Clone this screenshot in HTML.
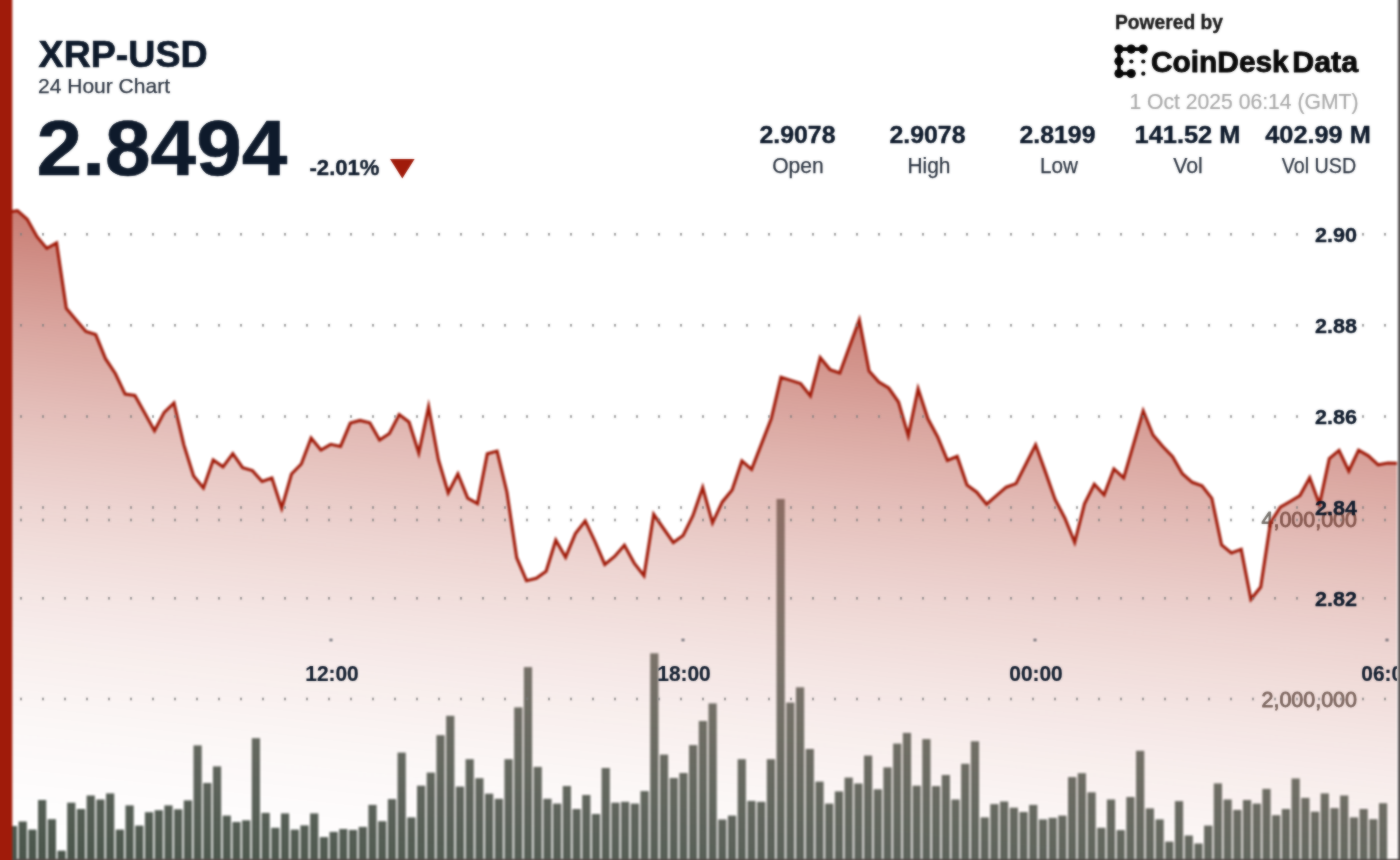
<!DOCTYPE html>
<html><head><meta charset="utf-8"><title>XRP-USD 24 Hour Chart</title>
<style>
html,body{margin:0;padding:0;background:#fff;}
body{width:1400px;height:860px;overflow:hidden;position:relative;font-family:"Liberation Sans",sans-serif;}
svg{position:absolute;left:-10px;top:-10px;display:block;}
text{font-family:"Liberation Sans",sans-serif;}
</style></head><body>
<svg width="1420" height="880" viewBox="-10 -10 1420 880">
<defs>
<linearGradient id="gf" gradientUnits="userSpaceOnUse" x1="30" y1="200" x2="-44.22" y2="880.91"><stop offset="0.0000" stop-color="#a01b0a" stop-opacity="0.5900"/><stop offset="0.0417" stop-color="#a01b0a" stop-opacity="0.5419"/><stop offset="0.0833" stop-color="#a01b0a" stop-opacity="0.4958"/><stop offset="0.1250" stop-color="#a01b0a" stop-opacity="0.4517"/><stop offset="0.1667" stop-color="#a01b0a" stop-opacity="0.4097"/><stop offset="0.2083" stop-color="#a01b0a" stop-opacity="0.3698"/><stop offset="0.2500" stop-color="#a01b0a" stop-opacity="0.3319"/><stop offset="0.2917" stop-color="#a01b0a" stop-opacity="0.2960"/><stop offset="0.3333" stop-color="#a01b0a" stop-opacity="0.2622"/><stop offset="0.3750" stop-color="#a01b0a" stop-opacity="0.2305"/><stop offset="0.4167" stop-color="#a01b0a" stop-opacity="0.2008"/><stop offset="0.4583" stop-color="#a01b0a" stop-opacity="0.1731"/><stop offset="0.5000" stop-color="#a01b0a" stop-opacity="0.1475"/><stop offset="0.5417" stop-color="#a01b0a" stop-opacity="0.1239"/><stop offset="0.5833" stop-color="#a01b0a" stop-opacity="0.1024"/><stop offset="0.6250" stop-color="#a01b0a" stop-opacity="0.0830"/><stop offset="0.6667" stop-color="#a01b0a" stop-opacity="0.0656"/><stop offset="0.7083" stop-color="#a01b0a" stop-opacity="0.0502"/><stop offset="0.7500" stop-color="#a01b0a" stop-opacity="0.0369"/><stop offset="0.7917" stop-color="#a01b0a" stop-opacity="0.0256"/><stop offset="0.8333" stop-color="#a01b0a" stop-opacity="0.0164"/><stop offset="0.8750" stop-color="#a01b0a" stop-opacity="0.0092"/><stop offset="0.9167" stop-color="#a01b0a" stop-opacity="0.0041"/><stop offset="0.9583" stop-color="#a01b0a" stop-opacity="0.0010"/><stop offset="1.0000" stop-color="#a01b0a" stop-opacity="0.0000"/></linearGradient>
<linearGradient id="gb" gradientUnits="userSpaceOnUse" x1="30" y1="200" x2="-44.22" y2="880.91"><stop offset="0.3164" stop-color="rgb(133, 140, 134)"/><stop offset="0.5298" stop-color="rgb(121, 129, 121)"/><stop offset="0.8171" stop-color="rgb(92, 101, 93)"/><stop offset="0.9115" stop-color="rgb(80, 91, 81)"/><stop offset="1.0000" stop-color="rgb(69, 80, 70)"/></linearGradient>
<clipPath id="plot"><rect x="-10" y="-10" width="1407" height="868"/></clipPath>
<clipPath id="plotb"><rect x="-10" y="-10" width="1407" height="880"/></clipPath>
<filter id="fg" color-interpolation-filters="sRGB" filterUnits="userSpaceOnUse" x="-10" y="-10" width="1420" height="880"><feGaussianBlur stdDeviation="0.9"/></filter>
<filter id="ft" color-interpolation-filters="sRGB" filterUnits="userSpaceOnUse" x="-10" y="-10" width="1420" height="880"><feGaussianBlur stdDeviation="0.9" result="b"/><feComposite in="b" in2="SourceGraphic" operator="arithmetic" k1="0" k2="0.55" k3="0.44999999999999996" k4="0"/></filter>
<filter id="fd" color-interpolation-filters="sRGB" filterUnits="userSpaceOnUse" x="-10" y="-10" width="1420" height="880"><feGaussianBlur stdDeviation="0.9" result="b"/><feComposite in="b" in2="SourceGraphic" operator="arithmetic" k1="0" k2="0.7" k3="0.3" k4="0"/></filter>
</defs>
<rect x="-10" y="-10" width="1420" height="880" fill="#fff"/>
<!-- layer A: bars -->
<g filter="url(#fg)">
<rect x="-10" y="-10" width="1420" height="880" fill="#fff"/>
<g clip-path="url(#plotb)" fill="url(#gb)">
<rect x="8.88" y="826.0" width="8.2" height="44.0"/>
<rect x="18.60" y="821.5" width="8.2" height="48.5"/>
<rect x="28.32" y="829.6" width="8.2" height="40.4"/>
<rect x="38.03" y="800.0" width="8.2" height="70.0"/>
<rect x="47.75" y="819.2" width="8.2" height="50.8"/>
<rect x="57.47" y="850.7" width="8.2" height="19.3"/>
<rect x="67.19" y="802.7" width="8.2" height="67.3"/>
<rect x="76.90" y="809.0" width="8.2" height="61.0"/>
<rect x="86.62" y="795.5" width="8.2" height="74.5"/>
<rect x="96.34" y="799.5" width="8.2" height="70.5"/>
<rect x="106.05" y="793.4" width="8.2" height="76.6"/>
<rect x="115.77" y="829.6" width="8.2" height="40.4"/>
<rect x="125.49" y="805.4" width="8.2" height="64.6"/>
<rect x="135.20" y="825.6" width="8.2" height="44.4"/>
<rect x="144.92" y="812.2" width="8.2" height="57.8"/>
<rect x="154.64" y="810.2" width="8.2" height="59.8"/>
<rect x="164.35" y="805.4" width="8.2" height="64.6"/>
<rect x="174.07" y="809.3" width="8.2" height="60.7"/>
<rect x="183.79" y="800.4" width="8.2" height="69.6"/>
<rect x="193.51" y="745.4" width="8.2" height="124.6"/>
<rect x="203.22" y="783.0" width="8.2" height="87.0"/>
<rect x="212.94" y="766.4" width="8.2" height="103.6"/>
<rect x="222.66" y="815.6" width="8.2" height="54.4"/>
<rect x="232.37" y="822.0" width="8.2" height="48.0"/>
<rect x="242.09" y="820.3" width="8.2" height="49.7"/>
<rect x="251.81" y="738.2" width="8.2" height="131.8"/>
<rect x="261.52" y="812.9" width="8.2" height="57.1"/>
<rect x="271.24" y="827.8" width="8.2" height="42.2"/>
<rect x="280.96" y="813.4" width="8.2" height="56.6"/>
<rect x="290.68" y="829.6" width="8.2" height="40.4"/>
<rect x="300.39" y="825.4" width="8.2" height="44.6"/>
<rect x="310.11" y="813.4" width="8.2" height="56.6"/>
<rect x="319.83" y="837.1" width="8.2" height="32.9"/>
<rect x="329.54" y="831.9" width="8.2" height="38.1"/>
<rect x="339.26" y="829.0" width="8.2" height="41.0"/>
<rect x="348.98" y="829.9" width="8.2" height="40.1"/>
<rect x="358.69" y="826.9" width="8.2" height="43.1"/>
<rect x="368.41" y="804.9" width="8.2" height="65.1"/>
<rect x="378.13" y="821.2" width="8.2" height="48.8"/>
<rect x="387.85" y="799.1" width="8.2" height="70.9"/>
<rect x="397.56" y="752.6" width="8.2" height="117.4"/>
<rect x="407.28" y="817.4" width="8.2" height="52.6"/>
<rect x="417.00" y="785.7" width="8.2" height="84.3"/>
<rect x="426.71" y="772.6" width="8.2" height="97.4"/>
<rect x="436.43" y="735.2" width="8.2" height="134.8"/>
<rect x="446.15" y="715.8" width="8.2" height="154.2"/>
<rect x="455.87" y="786.6" width="8.2" height="83.4"/>
<rect x="465.58" y="759.2" width="8.2" height="110.8"/>
<rect x="475.30" y="778.2" width="8.2" height="91.8"/>
<rect x="485.02" y="793.7" width="8.2" height="76.3"/>
<rect x="494.73" y="798.8" width="8.2" height="71.2"/>
<rect x="504.45" y="759.2" width="8.2" height="110.8"/>
<rect x="514.17" y="707.4" width="8.2" height="162.6"/>
<rect x="523.88" y="667.1" width="8.2" height="202.9"/>
<rect x="533.60" y="766.9" width="8.2" height="103.1"/>
<rect x="543.32" y="798.8" width="8.2" height="71.2"/>
<rect x="553.04" y="803.6" width="8.2" height="66.4"/>
<rect x="562.75" y="786.0" width="8.2" height="84.0"/>
<rect x="572.47" y="809.0" width="8.2" height="61.0"/>
<rect x="582.19" y="795.0" width="8.2" height="75.0"/>
<rect x="591.90" y="814.0" width="8.2" height="56.0"/>
<rect x="601.62" y="768.0" width="8.2" height="102.0"/>
<rect x="611.34" y="802.7" width="8.2" height="67.3"/>
<rect x="621.05" y="801.8" width="8.2" height="68.2"/>
<rect x="630.77" y="803.6" width="8.2" height="66.4"/>
<rect x="640.49" y="791.1" width="8.2" height="78.9"/>
<rect x="650.21" y="653.3" width="8.2" height="216.7"/>
<rect x="659.92" y="754.6" width="8.2" height="115.4"/>
<rect x="669.64" y="778.0" width="8.2" height="92.0"/>
<rect x="679.36" y="773.0" width="8.2" height="97.0"/>
<rect x="689.07" y="745.1" width="8.2" height="124.9"/>
<rect x="698.79" y="721.0" width="8.2" height="149.0"/>
<rect x="708.51" y="703.4" width="8.2" height="166.6"/>
<rect x="718.22" y="819.5" width="8.2" height="50.5"/>
<rect x="727.94" y="815.6" width="8.2" height="54.4"/>
<rect x="737.66" y="759.2" width="8.2" height="110.8"/>
<rect x="747.38" y="800.9" width="8.2" height="69.1"/>
<rect x="757.09" y="801.8" width="8.2" height="68.2"/>
<rect x="766.81" y="759.2" width="8.2" height="110.8"/>
<rect x="776.53" y="499.0" width="8.2" height="371.0"/>
<rect x="786.24" y="702.6" width="8.2" height="167.4"/>
<rect x="795.96" y="687.3" width="8.2" height="182.7"/>
<rect x="805.68" y="749.0" width="8.2" height="121.0"/>
<rect x="815.39" y="781.6" width="8.2" height="88.4"/>
<rect x="825.11" y="803.6" width="8.2" height="66.4"/>
<rect x="834.83" y="791.4" width="8.2" height="78.6"/>
<rect x="844.55" y="777.6" width="8.2" height="92.4"/>
<rect x="854.26" y="783.5" width="8.2" height="86.5"/>
<rect x="863.98" y="755.6" width="8.2" height="114.4"/>
<rect x="873.70" y="789.3" width="8.2" height="80.7"/>
<rect x="883.41" y="767.4" width="8.2" height="102.6"/>
<rect x="893.13" y="743.6" width="8.2" height="126.4"/>
<rect x="902.85" y="732.9" width="8.2" height="137.1"/>
<rect x="912.56" y="785.7" width="8.2" height="84.3"/>
<rect x="922.28" y="739.1" width="8.2" height="130.9"/>
<rect x="932.00" y="786.1" width="8.2" height="83.9"/>
<rect x="941.72" y="775.0" width="8.2" height="95.0"/>
<rect x="951.43" y="799.5" width="8.2" height="70.5"/>
<rect x="961.15" y="763.8" width="8.2" height="106.2"/>
<rect x="970.87" y="741.3" width="8.2" height="128.7"/>
<rect x="980.58" y="817.4" width="8.2" height="52.6"/>
<rect x="990.30" y="804.1" width="8.2" height="65.9"/>
<rect x="1000.02" y="801.5" width="8.2" height="68.5"/>
<rect x="1009.73" y="807.7" width="8.2" height="62.3"/>
<rect x="1019.45" y="812.0" width="8.2" height="58.0"/>
<rect x="1029.17" y="804.9" width="8.2" height="65.1"/>
<rect x="1038.89" y="819.4" width="8.2" height="50.6"/>
<rect x="1048.60" y="817.9" width="8.2" height="52.1"/>
<rect x="1058.32" y="815.6" width="8.2" height="54.4"/>
<rect x="1068.04" y="777.1" width="8.2" height="92.9"/>
<rect x="1077.75" y="773.2" width="8.2" height="96.8"/>
<rect x="1087.47" y="792.3" width="8.2" height="77.7"/>
<rect x="1097.19" y="827.8" width="8.2" height="42.2"/>
<rect x="1106.90" y="799.5" width="8.2" height="70.5"/>
<rect x="1116.62" y="830.1" width="8.2" height="39.9"/>
<rect x="1126.34" y="797.0" width="8.2" height="73.0"/>
<rect x="1136.06" y="750.8" width="8.2" height="119.2"/>
<rect x="1145.77" y="808.4" width="8.2" height="61.6"/>
<rect x="1155.49" y="819.4" width="8.2" height="50.6"/>
<rect x="1165.21" y="841.6" width="8.2" height="28.4"/>
<rect x="1174.92" y="801.1" width="8.2" height="68.9"/>
<rect x="1184.64" y="835.5" width="8.2" height="34.5"/>
<rect x="1194.36" y="843.5" width="8.2" height="26.5"/>
<rect x="1204.07" y="825.6" width="8.2" height="44.4"/>
<rect x="1213.79" y="783.4" width="8.2" height="86.6"/>
<rect x="1223.51" y="799.5" width="8.2" height="70.5"/>
<rect x="1233.23" y="809.9" width="8.2" height="60.1"/>
<rect x="1242.94" y="800.0" width="8.2" height="70.0"/>
<rect x="1252.66" y="803.6" width="8.2" height="66.4"/>
<rect x="1262.38" y="788.9" width="8.2" height="81.1"/>
<rect x="1272.09" y="815.2" width="8.2" height="54.8"/>
<rect x="1281.81" y="809.0" width="8.2" height="61.0"/>
<rect x="1291.53" y="778.5" width="8.2" height="91.5"/>
<rect x="1301.24" y="797.9" width="8.2" height="72.1"/>
<rect x="1310.96" y="811.7" width="8.2" height="58.3"/>
<rect x="1320.68" y="793.4" width="8.2" height="76.6"/>
<rect x="1330.40" y="808.1" width="8.2" height="61.9"/>
<rect x="1340.11" y="795.5" width="8.2" height="74.5"/>
<rect x="1349.83" y="817.4" width="8.2" height="52.6"/>
<rect x="1359.55" y="809.0" width="8.2" height="61.0"/>
<rect x="1369.26" y="819.2" width="8.2" height="50.8"/>
<rect x="1378.98" y="803.2" width="8.2" height="66.8"/>
</g>
</g>
<!-- layer B: volume axis labels (under the area fill) -->
<g filter="url(#ft)" clip-path="url(#plot)"><text x="1357" y="527" font-size="22" fill="#77726c" text-anchor="end" textLength="95.5" lengthAdjust="spacingAndGlyphs" stroke="#77726c" stroke-width="0.85" stroke-linejoin="round">4,000,000</text><text x="1357" y="707" font-size="22" fill="#77726c" text-anchor="end" textLength="95.5" lengthAdjust="spacingAndGlyphs" stroke="#77726c" stroke-width="0.85" stroke-linejoin="round">2,000,000</text></g>
<!-- layer C: area, line, grid, frame -->
<g filter="url(#fg)">
<g clip-path="url(#plot)">
<path d="M7.6,212.3 L17.4,210.6 L27.2,219.3 L37.0,236.7 L46.8,248.4 L56.6,243.0 L66.3,308.3 L76.1,319.9 L85.9,331.5 L95.7,334.6 L105.5,358.7 L115.3,373.5 L125.1,394.1 L134.9,395.4 L144.7,413.1 L154.5,430.8 L164.2,412.4 L174.0,402.9 L183.8,444.6 L193.6,476.0 L203.4,488.0 L213.2,460.0 L223.0,466.8 L232.8,453.6 L242.6,467.7 L252.4,470.6 L262.1,481.5 L271.9,478.0 L281.7,508.2 L291.5,474.0 L301.3,464.0 L311.1,438.0 L320.9,450.0 L330.7,444.3 L340.5,446.4 L350.3,423.1 L360.0,420.4 L369.8,422.8 L379.6,440.1 L389.4,433.5 L399.2,414.5 L409.0,422.0 L418.8,453.0 L428.6,406.7 L438.4,459.7 L448.2,492.8 L457.9,474.0 L467.7,498.2 L477.5,503.6 L487.3,453.8 L497.1,451.1 L506.9,492.0 L516.7,557.7 L526.5,580.7 L536.3,578.3 L546.1,571.2 L555.8,540.2 L565.6,557.2 L575.4,533.6 L585.2,521.0 L595.0,541.6 L604.8,564.4 L614.6,556.5 L624.4,545.2 L634.2,563.1 L644.0,575.7 L653.7,514.4 L663.5,528.5 L673.3,542.5 L683.1,535.4 L692.9,515.7 L702.7,487.5 L712.5,522.8 L722.3,501.9 L732.1,490.0 L741.9,460.9 L751.6,469.3 L761.4,444.1 L771.2,418.8 L781.0,377.2 L790.8,380.4 L800.6,383.6 L810.4,395.9 L820.2,357.5 L830.0,369.6 L839.8,373.0 L849.5,346.5 L859.3,320.1 L869.1,371.0 L878.9,382.0 L888.7,388.0 L898.5,402.0 L908.3,435.7 L918.1,388.8 L927.9,418.8 L937.7,437.0 L947.4,460.4 L957.2,456.4 L967.0,485.1 L976.8,492.2 L986.6,504.2 L996.4,495.7 L1006.2,487.2 L1016.0,483.6 L1025.8,464.2 L1035.6,444.8 L1045.3,471.6 L1055.1,499.4 L1064.9,518.2 L1074.7,542.4 L1084.5,503.9 L1094.3,484.2 L1104.1,494.9 L1113.9,468.9 L1123.7,477.9 L1133.5,444.4 L1143.2,411.0 L1153.0,435.0 L1162.8,446.5 L1172.6,456.7 L1182.4,473.7 L1192.2,482.3 L1202.0,485.7 L1211.8,498.3 L1221.6,545.0 L1231.4,553.0 L1241.2,549.4 L1250.9,599.3 L1260.7,587.0 L1270.5,522.5 L1280.3,507.2 L1290.1,501.5 L1299.9,495.6 L1309.7,477.7 L1319.5,504.2 L1329.3,458.5 L1339.0,450.4 L1348.8,471.0 L1358.6,450.1 L1368.4,455.8 L1378.2,464.8 L1388.0,463.0 L1397.8,463.3 L1407.6,463.5 L1407.6,870 L7.6,870 Z" fill="url(#gf)"/>
<path d="M7.6,212.3 L17.4,210.6 L27.2,219.3 L37.0,236.7 L46.8,248.4 L56.6,243.0 L66.3,308.3 L76.1,319.9 L85.9,331.5 L95.7,334.6 L105.5,358.7 L115.3,373.5 L125.1,394.1 L134.9,395.4 L144.7,413.1 L154.5,430.8 L164.2,412.4 L174.0,402.9 L183.8,444.6 L193.6,476.0 L203.4,488.0 L213.2,460.0 L223.0,466.8 L232.8,453.6 L242.6,467.7 L252.4,470.6 L262.1,481.5 L271.9,478.0 L281.7,508.2 L291.5,474.0 L301.3,464.0 L311.1,438.0 L320.9,450.0 L330.7,444.3 L340.5,446.4 L350.3,423.1 L360.0,420.4 L369.8,422.8 L379.6,440.1 L389.4,433.5 L399.2,414.5 L409.0,422.0 L418.8,453.0 L428.6,406.7 L438.4,459.7 L448.2,492.8 L457.9,474.0 L467.7,498.2 L477.5,503.6 L487.3,453.8 L497.1,451.1 L506.9,492.0 L516.7,557.7 L526.5,580.7 L536.3,578.3 L546.1,571.2 L555.8,540.2 L565.6,557.2 L575.4,533.6 L585.2,521.0 L595.0,541.6 L604.8,564.4 L614.6,556.5 L624.4,545.2 L634.2,563.1 L644.0,575.7 L653.7,514.4 L663.5,528.5 L673.3,542.5 L683.1,535.4 L692.9,515.7 L702.7,487.5 L712.5,522.8 L722.3,501.9 L732.1,490.0 L741.9,460.9 L751.6,469.3 L761.4,444.1 L771.2,418.8 L781.0,377.2 L790.8,380.4 L800.6,383.6 L810.4,395.9 L820.2,357.5 L830.0,369.6 L839.8,373.0 L849.5,346.5 L859.3,320.1 L869.1,371.0 L878.9,382.0 L888.7,388.0 L898.5,402.0 L908.3,435.7 L918.1,388.8 L927.9,418.8 L937.7,437.0 L947.4,460.4 L957.2,456.4 L967.0,485.1 L976.8,492.2 L986.6,504.2 L996.4,495.7 L1006.2,487.2 L1016.0,483.6 L1025.8,464.2 L1035.6,444.8 L1045.3,471.6 L1055.1,499.4 L1064.9,518.2 L1074.7,542.4 L1084.5,503.9 L1094.3,484.2 L1104.1,494.9 L1113.9,468.9 L1123.7,477.9 L1133.5,444.4 L1143.2,411.0 L1153.0,435.0 L1162.8,446.5 L1172.6,456.7 L1182.4,473.7 L1192.2,482.3 L1202.0,485.7 L1211.8,498.3 L1221.6,545.0 L1231.4,553.0 L1241.2,549.4 L1250.9,599.3 L1260.7,587.0 L1270.5,522.5 L1280.3,507.2 L1290.1,501.5 L1299.9,495.6 L1309.7,477.7 L1319.5,504.2 L1329.3,458.5 L1339.0,450.4 L1348.8,471.0 L1358.6,450.1 L1368.4,455.8 L1378.2,464.8 L1388.0,463.0 L1397.8,463.3 L1407.6,463.5" fill="none" stroke="#a11d0c" stroke-width="3.1" stroke-linejoin="miter" stroke-miterlimit="6"/>
<g fill="#2a3340"><rect x="329.8" y="639" width="2.4" height="2"/><rect x="681.8" y="639" width="2.4" height="2"/><rect x="1033.8" y="639" width="2.4" height="2"/><rect x="1385.8" y="639" width="2.4" height="2"/></g>
</g>
<rect x="-10" y="-10" width="22.3" height="880" fill="#a01b0a"/>
<rect x="1398" y="-10" width="12" height="880" fill="#565252"/>
<rect x="12.3" y="859" width="1398" height="11" fill="#574c4a"/>
</g>
<g filter="url(#fd)" clip-path="url(#plot)" fill="#7e7e7e"><rect x="20.2" y="233.0" width="1.6" height="2.6"/><rect x="42.2" y="233.0" width="1.6" height="2.6"/><rect x="64.2" y="233.0" width="1.6" height="2.6"/><rect x="86.2" y="233.0" width="1.6" height="2.6"/><rect x="108.2" y="233.0" width="1.6" height="2.6"/><rect x="130.2" y="233.0" width="1.6" height="2.6"/><rect x="152.2" y="233.0" width="1.6" height="2.6"/><rect x="174.2" y="233.0" width="1.6" height="2.6"/><rect x="196.2" y="233.0" width="1.6" height="2.6"/><rect x="218.2" y="233.0" width="1.6" height="2.6"/><rect x="240.2" y="233.0" width="1.6" height="2.6"/><rect x="262.2" y="233.0" width="1.6" height="2.6"/><rect x="284.2" y="233.0" width="1.6" height="2.6"/><rect x="306.2" y="233.0" width="1.6" height="2.6"/><rect x="328.2" y="233.0" width="1.6" height="2.6"/><rect x="350.2" y="233.0" width="1.6" height="2.6"/><rect x="372.2" y="233.0" width="1.6" height="2.6"/><rect x="394.2" y="233.0" width="1.6" height="2.6"/><rect x="416.2" y="233.0" width="1.6" height="2.6"/><rect x="438.2" y="233.0" width="1.6" height="2.6"/><rect x="460.2" y="233.0" width="1.6" height="2.6"/><rect x="482.2" y="233.0" width="1.6" height="2.6"/><rect x="504.2" y="233.0" width="1.6" height="2.6"/><rect x="526.2" y="233.0" width="1.6" height="2.6"/><rect x="548.2" y="233.0" width="1.6" height="2.6"/><rect x="570.2" y="233.0" width="1.6" height="2.6"/><rect x="592.2" y="233.0" width="1.6" height="2.6"/><rect x="614.2" y="233.0" width="1.6" height="2.6"/><rect x="636.2" y="233.0" width="1.6" height="2.6"/><rect x="658.2" y="233.0" width="1.6" height="2.6"/><rect x="680.2" y="233.0" width="1.6" height="2.6"/><rect x="702.2" y="233.0" width="1.6" height="2.6"/><rect x="724.2" y="233.0" width="1.6" height="2.6"/><rect x="746.2" y="233.0" width="1.6" height="2.6"/><rect x="768.2" y="233.0" width="1.6" height="2.6"/><rect x="790.2" y="233.0" width="1.6" height="2.6"/><rect x="812.2" y="233.0" width="1.6" height="2.6"/><rect x="834.2" y="233.0" width="1.6" height="2.6"/><rect x="856.2" y="233.0" width="1.6" height="2.6"/><rect x="878.2" y="233.0" width="1.6" height="2.6"/><rect x="900.2" y="233.0" width="1.6" height="2.6"/><rect x="922.2" y="233.0" width="1.6" height="2.6"/><rect x="944.2" y="233.0" width="1.6" height="2.6"/><rect x="966.2" y="233.0" width="1.6" height="2.6"/><rect x="988.2" y="233.0" width="1.6" height="2.6"/><rect x="1010.2" y="233.0" width="1.6" height="2.6"/><rect x="1032.2" y="233.0" width="1.6" height="2.6"/><rect x="1054.2" y="233.0" width="1.6" height="2.6"/><rect x="1076.2" y="233.0" width="1.6" height="2.6"/><rect x="1098.2" y="233.0" width="1.6" height="2.6"/><rect x="1120.2" y="233.0" width="1.6" height="2.6"/><rect x="1142.2" y="233.0" width="1.6" height="2.6"/><rect x="1164.2" y="233.0" width="1.6" height="2.6"/><rect x="1186.2" y="233.0" width="1.6" height="2.6"/><rect x="1208.2" y="233.0" width="1.6" height="2.6"/><rect x="1230.2" y="233.0" width="1.6" height="2.6"/><rect x="1252.2" y="233.0" width="1.6" height="2.6"/><rect x="1274.2" y="233.0" width="1.6" height="2.6"/><rect x="1296.2" y="233.0" width="1.6" height="2.6"/><rect x="1318.2" y="233.0" width="1.6" height="2.6"/><rect x="1340.2" y="233.0" width="1.6" height="2.6"/><rect x="1362.2" y="233.0" width="1.6" height="2.6"/><rect x="1384.2" y="233.0" width="1.6" height="2.6"/><rect x="20.2" y="324.0" width="1.6" height="2.6"/><rect x="42.2" y="324.0" width="1.6" height="2.6"/><rect x="64.2" y="324.0" width="1.6" height="2.6"/><rect x="86.2" y="324.0" width="1.6" height="2.6"/><rect x="108.2" y="324.0" width="1.6" height="2.6"/><rect x="130.2" y="324.0" width="1.6" height="2.6"/><rect x="152.2" y="324.0" width="1.6" height="2.6"/><rect x="174.2" y="324.0" width="1.6" height="2.6"/><rect x="196.2" y="324.0" width="1.6" height="2.6"/><rect x="218.2" y="324.0" width="1.6" height="2.6"/><rect x="240.2" y="324.0" width="1.6" height="2.6"/><rect x="262.2" y="324.0" width="1.6" height="2.6"/><rect x="284.2" y="324.0" width="1.6" height="2.6"/><rect x="306.2" y="324.0" width="1.6" height="2.6"/><rect x="328.2" y="324.0" width="1.6" height="2.6"/><rect x="350.2" y="324.0" width="1.6" height="2.6"/><rect x="372.2" y="324.0" width="1.6" height="2.6"/><rect x="394.2" y="324.0" width="1.6" height="2.6"/><rect x="416.2" y="324.0" width="1.6" height="2.6"/><rect x="438.2" y="324.0" width="1.6" height="2.6"/><rect x="460.2" y="324.0" width="1.6" height="2.6"/><rect x="482.2" y="324.0" width="1.6" height="2.6"/><rect x="504.2" y="324.0" width="1.6" height="2.6"/><rect x="526.2" y="324.0" width="1.6" height="2.6"/><rect x="548.2" y="324.0" width="1.6" height="2.6"/><rect x="570.2" y="324.0" width="1.6" height="2.6"/><rect x="592.2" y="324.0" width="1.6" height="2.6"/><rect x="614.2" y="324.0" width="1.6" height="2.6"/><rect x="636.2" y="324.0" width="1.6" height="2.6"/><rect x="658.2" y="324.0" width="1.6" height="2.6"/><rect x="680.2" y="324.0" width="1.6" height="2.6"/><rect x="702.2" y="324.0" width="1.6" height="2.6"/><rect x="724.2" y="324.0" width="1.6" height="2.6"/><rect x="746.2" y="324.0" width="1.6" height="2.6"/><rect x="768.2" y="324.0" width="1.6" height="2.6"/><rect x="790.2" y="324.0" width="1.6" height="2.6"/><rect x="812.2" y="324.0" width="1.6" height="2.6"/><rect x="834.2" y="324.0" width="1.6" height="2.6"/><rect x="856.2" y="324.0" width="1.6" height="2.6"/><rect x="878.2" y="324.0" width="1.6" height="2.6"/><rect x="900.2" y="324.0" width="1.6" height="2.6"/><rect x="922.2" y="324.0" width="1.6" height="2.6"/><rect x="944.2" y="324.0" width="1.6" height="2.6"/><rect x="966.2" y="324.0" width="1.6" height="2.6"/><rect x="988.2" y="324.0" width="1.6" height="2.6"/><rect x="1010.2" y="324.0" width="1.6" height="2.6"/><rect x="1032.2" y="324.0" width="1.6" height="2.6"/><rect x="1054.2" y="324.0" width="1.6" height="2.6"/><rect x="1076.2" y="324.0" width="1.6" height="2.6"/><rect x="1098.2" y="324.0" width="1.6" height="2.6"/><rect x="1120.2" y="324.0" width="1.6" height="2.6"/><rect x="1142.2" y="324.0" width="1.6" height="2.6"/><rect x="1164.2" y="324.0" width="1.6" height="2.6"/><rect x="1186.2" y="324.0" width="1.6" height="2.6"/><rect x="1208.2" y="324.0" width="1.6" height="2.6"/><rect x="1230.2" y="324.0" width="1.6" height="2.6"/><rect x="1252.2" y="324.0" width="1.6" height="2.6"/><rect x="1274.2" y="324.0" width="1.6" height="2.6"/><rect x="1296.2" y="324.0" width="1.6" height="2.6"/><rect x="1318.2" y="324.0" width="1.6" height="2.6"/><rect x="1340.2" y="324.0" width="1.6" height="2.6"/><rect x="1362.2" y="324.0" width="1.6" height="2.6"/><rect x="1384.2" y="324.0" width="1.6" height="2.6"/><rect x="20.2" y="415.2" width="1.6" height="2.6"/><rect x="42.2" y="415.2" width="1.6" height="2.6"/><rect x="64.2" y="415.2" width="1.6" height="2.6"/><rect x="86.2" y="415.2" width="1.6" height="2.6"/><rect x="108.2" y="415.2" width="1.6" height="2.6"/><rect x="130.2" y="415.2" width="1.6" height="2.6"/><rect x="152.2" y="415.2" width="1.6" height="2.6"/><rect x="174.2" y="415.2" width="1.6" height="2.6"/><rect x="196.2" y="415.2" width="1.6" height="2.6"/><rect x="218.2" y="415.2" width="1.6" height="2.6"/><rect x="240.2" y="415.2" width="1.6" height="2.6"/><rect x="262.2" y="415.2" width="1.6" height="2.6"/><rect x="284.2" y="415.2" width="1.6" height="2.6"/><rect x="306.2" y="415.2" width="1.6" height="2.6"/><rect x="328.2" y="415.2" width="1.6" height="2.6"/><rect x="350.2" y="415.2" width="1.6" height="2.6"/><rect x="372.2" y="415.2" width="1.6" height="2.6"/><rect x="394.2" y="415.2" width="1.6" height="2.6"/><rect x="416.2" y="415.2" width="1.6" height="2.6"/><rect x="438.2" y="415.2" width="1.6" height="2.6"/><rect x="460.2" y="415.2" width="1.6" height="2.6"/><rect x="482.2" y="415.2" width="1.6" height="2.6"/><rect x="504.2" y="415.2" width="1.6" height="2.6"/><rect x="526.2" y="415.2" width="1.6" height="2.6"/><rect x="548.2" y="415.2" width="1.6" height="2.6"/><rect x="570.2" y="415.2" width="1.6" height="2.6"/><rect x="592.2" y="415.2" width="1.6" height="2.6"/><rect x="614.2" y="415.2" width="1.6" height="2.6"/><rect x="636.2" y="415.2" width="1.6" height="2.6"/><rect x="658.2" y="415.2" width="1.6" height="2.6"/><rect x="680.2" y="415.2" width="1.6" height="2.6"/><rect x="702.2" y="415.2" width="1.6" height="2.6"/><rect x="724.2" y="415.2" width="1.6" height="2.6"/><rect x="746.2" y="415.2" width="1.6" height="2.6"/><rect x="768.2" y="415.2" width="1.6" height="2.6"/><rect x="790.2" y="415.2" width="1.6" height="2.6"/><rect x="812.2" y="415.2" width="1.6" height="2.6"/><rect x="834.2" y="415.2" width="1.6" height="2.6"/><rect x="856.2" y="415.2" width="1.6" height="2.6"/><rect x="878.2" y="415.2" width="1.6" height="2.6"/><rect x="900.2" y="415.2" width="1.6" height="2.6"/><rect x="922.2" y="415.2" width="1.6" height="2.6"/><rect x="944.2" y="415.2" width="1.6" height="2.6"/><rect x="966.2" y="415.2" width="1.6" height="2.6"/><rect x="988.2" y="415.2" width="1.6" height="2.6"/><rect x="1010.2" y="415.2" width="1.6" height="2.6"/><rect x="1032.2" y="415.2" width="1.6" height="2.6"/><rect x="1054.2" y="415.2" width="1.6" height="2.6"/><rect x="1076.2" y="415.2" width="1.6" height="2.6"/><rect x="1098.2" y="415.2" width="1.6" height="2.6"/><rect x="1120.2" y="415.2" width="1.6" height="2.6"/><rect x="1142.2" y="415.2" width="1.6" height="2.6"/><rect x="1164.2" y="415.2" width="1.6" height="2.6"/><rect x="1186.2" y="415.2" width="1.6" height="2.6"/><rect x="1208.2" y="415.2" width="1.6" height="2.6"/><rect x="1230.2" y="415.2" width="1.6" height="2.6"/><rect x="1252.2" y="415.2" width="1.6" height="2.6"/><rect x="1274.2" y="415.2" width="1.6" height="2.6"/><rect x="1296.2" y="415.2" width="1.6" height="2.6"/><rect x="1318.2" y="415.2" width="1.6" height="2.6"/><rect x="1340.2" y="415.2" width="1.6" height="2.6"/><rect x="1362.2" y="415.2" width="1.6" height="2.6"/><rect x="1384.2" y="415.2" width="1.6" height="2.6"/><rect x="20.2" y="506.2" width="1.6" height="2.6"/><rect x="42.2" y="506.2" width="1.6" height="2.6"/><rect x="64.2" y="506.2" width="1.6" height="2.6"/><rect x="86.2" y="506.2" width="1.6" height="2.6"/><rect x="108.2" y="506.2" width="1.6" height="2.6"/><rect x="130.2" y="506.2" width="1.6" height="2.6"/><rect x="152.2" y="506.2" width="1.6" height="2.6"/><rect x="174.2" y="506.2" width="1.6" height="2.6"/><rect x="196.2" y="506.2" width="1.6" height="2.6"/><rect x="218.2" y="506.2" width="1.6" height="2.6"/><rect x="240.2" y="506.2" width="1.6" height="2.6"/><rect x="262.2" y="506.2" width="1.6" height="2.6"/><rect x="284.2" y="506.2" width="1.6" height="2.6"/><rect x="306.2" y="506.2" width="1.6" height="2.6"/><rect x="328.2" y="506.2" width="1.6" height="2.6"/><rect x="350.2" y="506.2" width="1.6" height="2.6"/><rect x="372.2" y="506.2" width="1.6" height="2.6"/><rect x="394.2" y="506.2" width="1.6" height="2.6"/><rect x="416.2" y="506.2" width="1.6" height="2.6"/><rect x="438.2" y="506.2" width="1.6" height="2.6"/><rect x="460.2" y="506.2" width="1.6" height="2.6"/><rect x="482.2" y="506.2" width="1.6" height="2.6"/><rect x="504.2" y="506.2" width="1.6" height="2.6"/><rect x="526.2" y="506.2" width="1.6" height="2.6"/><rect x="548.2" y="506.2" width="1.6" height="2.6"/><rect x="570.2" y="506.2" width="1.6" height="2.6"/><rect x="592.2" y="506.2" width="1.6" height="2.6"/><rect x="614.2" y="506.2" width="1.6" height="2.6"/><rect x="636.2" y="506.2" width="1.6" height="2.6"/><rect x="658.2" y="506.2" width="1.6" height="2.6"/><rect x="680.2" y="506.2" width="1.6" height="2.6"/><rect x="702.2" y="506.2" width="1.6" height="2.6"/><rect x="724.2" y="506.2" width="1.6" height="2.6"/><rect x="746.2" y="506.2" width="1.6" height="2.6"/><rect x="768.2" y="506.2" width="1.6" height="2.6"/><rect x="790.2" y="506.2" width="1.6" height="2.6"/><rect x="812.2" y="506.2" width="1.6" height="2.6"/><rect x="834.2" y="506.2" width="1.6" height="2.6"/><rect x="856.2" y="506.2" width="1.6" height="2.6"/><rect x="878.2" y="506.2" width="1.6" height="2.6"/><rect x="900.2" y="506.2" width="1.6" height="2.6"/><rect x="922.2" y="506.2" width="1.6" height="2.6"/><rect x="944.2" y="506.2" width="1.6" height="2.6"/><rect x="966.2" y="506.2" width="1.6" height="2.6"/><rect x="988.2" y="506.2" width="1.6" height="2.6"/><rect x="1010.2" y="506.2" width="1.6" height="2.6"/><rect x="1032.2" y="506.2" width="1.6" height="2.6"/><rect x="1054.2" y="506.2" width="1.6" height="2.6"/><rect x="1076.2" y="506.2" width="1.6" height="2.6"/><rect x="1098.2" y="506.2" width="1.6" height="2.6"/><rect x="1120.2" y="506.2" width="1.6" height="2.6"/><rect x="1142.2" y="506.2" width="1.6" height="2.6"/><rect x="1164.2" y="506.2" width="1.6" height="2.6"/><rect x="1186.2" y="506.2" width="1.6" height="2.6"/><rect x="1208.2" y="506.2" width="1.6" height="2.6"/><rect x="1230.2" y="506.2" width="1.6" height="2.6"/><rect x="1252.2" y="506.2" width="1.6" height="2.6"/><rect x="1274.2" y="506.2" width="1.6" height="2.6"/><rect x="1296.2" y="506.2" width="1.6" height="2.6"/><rect x="1318.2" y="506.2" width="1.6" height="2.6"/><rect x="1340.2" y="506.2" width="1.6" height="2.6"/><rect x="1362.2" y="506.2" width="1.6" height="2.6"/><rect x="1384.2" y="506.2" width="1.6" height="2.6"/><rect x="20.2" y="597.0" width="1.6" height="2.6"/><rect x="42.2" y="597.0" width="1.6" height="2.6"/><rect x="64.2" y="597.0" width="1.6" height="2.6"/><rect x="86.2" y="597.0" width="1.6" height="2.6"/><rect x="108.2" y="597.0" width="1.6" height="2.6"/><rect x="130.2" y="597.0" width="1.6" height="2.6"/><rect x="152.2" y="597.0" width="1.6" height="2.6"/><rect x="174.2" y="597.0" width="1.6" height="2.6"/><rect x="196.2" y="597.0" width="1.6" height="2.6"/><rect x="218.2" y="597.0" width="1.6" height="2.6"/><rect x="240.2" y="597.0" width="1.6" height="2.6"/><rect x="262.2" y="597.0" width="1.6" height="2.6"/><rect x="284.2" y="597.0" width="1.6" height="2.6"/><rect x="306.2" y="597.0" width="1.6" height="2.6"/><rect x="328.2" y="597.0" width="1.6" height="2.6"/><rect x="350.2" y="597.0" width="1.6" height="2.6"/><rect x="372.2" y="597.0" width="1.6" height="2.6"/><rect x="394.2" y="597.0" width="1.6" height="2.6"/><rect x="416.2" y="597.0" width="1.6" height="2.6"/><rect x="438.2" y="597.0" width="1.6" height="2.6"/><rect x="460.2" y="597.0" width="1.6" height="2.6"/><rect x="482.2" y="597.0" width="1.6" height="2.6"/><rect x="504.2" y="597.0" width="1.6" height="2.6"/><rect x="526.2" y="597.0" width="1.6" height="2.6"/><rect x="548.2" y="597.0" width="1.6" height="2.6"/><rect x="570.2" y="597.0" width="1.6" height="2.6"/><rect x="592.2" y="597.0" width="1.6" height="2.6"/><rect x="614.2" y="597.0" width="1.6" height="2.6"/><rect x="636.2" y="597.0" width="1.6" height="2.6"/><rect x="658.2" y="597.0" width="1.6" height="2.6"/><rect x="680.2" y="597.0" width="1.6" height="2.6"/><rect x="702.2" y="597.0" width="1.6" height="2.6"/><rect x="724.2" y="597.0" width="1.6" height="2.6"/><rect x="746.2" y="597.0" width="1.6" height="2.6"/><rect x="768.2" y="597.0" width="1.6" height="2.6"/><rect x="790.2" y="597.0" width="1.6" height="2.6"/><rect x="812.2" y="597.0" width="1.6" height="2.6"/><rect x="834.2" y="597.0" width="1.6" height="2.6"/><rect x="856.2" y="597.0" width="1.6" height="2.6"/><rect x="878.2" y="597.0" width="1.6" height="2.6"/><rect x="900.2" y="597.0" width="1.6" height="2.6"/><rect x="922.2" y="597.0" width="1.6" height="2.6"/><rect x="944.2" y="597.0" width="1.6" height="2.6"/><rect x="966.2" y="597.0" width="1.6" height="2.6"/><rect x="988.2" y="597.0" width="1.6" height="2.6"/><rect x="1010.2" y="597.0" width="1.6" height="2.6"/><rect x="1032.2" y="597.0" width="1.6" height="2.6"/><rect x="1054.2" y="597.0" width="1.6" height="2.6"/><rect x="1076.2" y="597.0" width="1.6" height="2.6"/><rect x="1098.2" y="597.0" width="1.6" height="2.6"/><rect x="1120.2" y="597.0" width="1.6" height="2.6"/><rect x="1142.2" y="597.0" width="1.6" height="2.6"/><rect x="1164.2" y="597.0" width="1.6" height="2.6"/><rect x="1186.2" y="597.0" width="1.6" height="2.6"/><rect x="1208.2" y="597.0" width="1.6" height="2.6"/><rect x="1230.2" y="597.0" width="1.6" height="2.6"/><rect x="1252.2" y="597.0" width="1.6" height="2.6"/><rect x="1274.2" y="597.0" width="1.6" height="2.6"/><rect x="1296.2" y="597.0" width="1.6" height="2.6"/><rect x="1318.2" y="597.0" width="1.6" height="2.6"/><rect x="1340.2" y="597.0" width="1.6" height="2.6"/><rect x="1362.2" y="597.0" width="1.6" height="2.6"/><rect x="1384.2" y="597.0" width="1.6" height="2.6"/><rect x="20.2" y="518.7" width="1.6" height="2.6"/><rect x="42.2" y="518.7" width="1.6" height="2.6"/><rect x="64.2" y="518.7" width="1.6" height="2.6"/><rect x="86.2" y="518.7" width="1.6" height="2.6"/><rect x="108.2" y="518.7" width="1.6" height="2.6"/><rect x="130.2" y="518.7" width="1.6" height="2.6"/><rect x="152.2" y="518.7" width="1.6" height="2.6"/><rect x="174.2" y="518.7" width="1.6" height="2.6"/><rect x="196.2" y="518.7" width="1.6" height="2.6"/><rect x="218.2" y="518.7" width="1.6" height="2.6"/><rect x="240.2" y="518.7" width="1.6" height="2.6"/><rect x="262.2" y="518.7" width="1.6" height="2.6"/><rect x="284.2" y="518.7" width="1.6" height="2.6"/><rect x="306.2" y="518.7" width="1.6" height="2.6"/><rect x="328.2" y="518.7" width="1.6" height="2.6"/><rect x="350.2" y="518.7" width="1.6" height="2.6"/><rect x="372.2" y="518.7" width="1.6" height="2.6"/><rect x="394.2" y="518.7" width="1.6" height="2.6"/><rect x="416.2" y="518.7" width="1.6" height="2.6"/><rect x="438.2" y="518.7" width="1.6" height="2.6"/><rect x="460.2" y="518.7" width="1.6" height="2.6"/><rect x="482.2" y="518.7" width="1.6" height="2.6"/><rect x="504.2" y="518.7" width="1.6" height="2.6"/><rect x="526.2" y="518.7" width="1.6" height="2.6"/><rect x="548.2" y="518.7" width="1.6" height="2.6"/><rect x="570.2" y="518.7" width="1.6" height="2.6"/><rect x="592.2" y="518.7" width="1.6" height="2.6"/><rect x="614.2" y="518.7" width="1.6" height="2.6"/><rect x="636.2" y="518.7" width="1.6" height="2.6"/><rect x="658.2" y="518.7" width="1.6" height="2.6"/><rect x="680.2" y="518.7" width="1.6" height="2.6"/><rect x="702.2" y="518.7" width="1.6" height="2.6"/><rect x="724.2" y="518.7" width="1.6" height="2.6"/><rect x="746.2" y="518.7" width="1.6" height="2.6"/><rect x="768.2" y="518.7" width="1.6" height="2.6"/><rect x="790.2" y="518.7" width="1.6" height="2.6"/><rect x="812.2" y="518.7" width="1.6" height="2.6"/><rect x="834.2" y="518.7" width="1.6" height="2.6"/><rect x="856.2" y="518.7" width="1.6" height="2.6"/><rect x="878.2" y="518.7" width="1.6" height="2.6"/><rect x="900.2" y="518.7" width="1.6" height="2.6"/><rect x="922.2" y="518.7" width="1.6" height="2.6"/><rect x="944.2" y="518.7" width="1.6" height="2.6"/><rect x="966.2" y="518.7" width="1.6" height="2.6"/><rect x="988.2" y="518.7" width="1.6" height="2.6"/><rect x="1010.2" y="518.7" width="1.6" height="2.6"/><rect x="1032.2" y="518.7" width="1.6" height="2.6"/><rect x="1054.2" y="518.7" width="1.6" height="2.6"/><rect x="1076.2" y="518.7" width="1.6" height="2.6"/><rect x="1098.2" y="518.7" width="1.6" height="2.6"/><rect x="1120.2" y="518.7" width="1.6" height="2.6"/><rect x="1142.2" y="518.7" width="1.6" height="2.6"/><rect x="1164.2" y="518.7" width="1.6" height="2.6"/><rect x="1186.2" y="518.7" width="1.6" height="2.6"/><rect x="1208.2" y="518.7" width="1.6" height="2.6"/><rect x="1230.2" y="518.7" width="1.6" height="2.6"/><rect x="1252.2" y="518.7" width="1.6" height="2.6"/><rect x="1274.2" y="518.7" width="1.6" height="2.6"/><rect x="1296.2" y="518.7" width="1.6" height="2.6"/><rect x="1318.2" y="518.7" width="1.6" height="2.6"/><rect x="1340.2" y="518.7" width="1.6" height="2.6"/><rect x="1362.2" y="518.7" width="1.6" height="2.6"/><rect x="1384.2" y="518.7" width="1.6" height="2.6"/><rect x="20.2" y="697.7" width="1.6" height="2.6"/><rect x="42.2" y="697.7" width="1.6" height="2.6"/><rect x="64.2" y="697.7" width="1.6" height="2.6"/><rect x="86.2" y="697.7" width="1.6" height="2.6"/><rect x="108.2" y="697.7" width="1.6" height="2.6"/><rect x="130.2" y="697.7" width="1.6" height="2.6"/><rect x="152.2" y="697.7" width="1.6" height="2.6"/><rect x="174.2" y="697.7" width="1.6" height="2.6"/><rect x="196.2" y="697.7" width="1.6" height="2.6"/><rect x="218.2" y="697.7" width="1.6" height="2.6"/><rect x="240.2" y="697.7" width="1.6" height="2.6"/><rect x="262.2" y="697.7" width="1.6" height="2.6"/><rect x="284.2" y="697.7" width="1.6" height="2.6"/><rect x="306.2" y="697.7" width="1.6" height="2.6"/><rect x="328.2" y="697.7" width="1.6" height="2.6"/><rect x="350.2" y="697.7" width="1.6" height="2.6"/><rect x="372.2" y="697.7" width="1.6" height="2.6"/><rect x="394.2" y="697.7" width="1.6" height="2.6"/><rect x="416.2" y="697.7" width="1.6" height="2.6"/><rect x="438.2" y="697.7" width="1.6" height="2.6"/><rect x="460.2" y="697.7" width="1.6" height="2.6"/><rect x="482.2" y="697.7" width="1.6" height="2.6"/><rect x="504.2" y="697.7" width="1.6" height="2.6"/><rect x="526.2" y="697.7" width="1.6" height="2.6"/><rect x="548.2" y="697.7" width="1.6" height="2.6"/><rect x="570.2" y="697.7" width="1.6" height="2.6"/><rect x="592.2" y="697.7" width="1.6" height="2.6"/><rect x="614.2" y="697.7" width="1.6" height="2.6"/><rect x="636.2" y="697.7" width="1.6" height="2.6"/><rect x="658.2" y="697.7" width="1.6" height="2.6"/><rect x="680.2" y="697.7" width="1.6" height="2.6"/><rect x="702.2" y="697.7" width="1.6" height="2.6"/><rect x="724.2" y="697.7" width="1.6" height="2.6"/><rect x="746.2" y="697.7" width="1.6" height="2.6"/><rect x="768.2" y="697.7" width="1.6" height="2.6"/><rect x="790.2" y="697.7" width="1.6" height="2.6"/><rect x="812.2" y="697.7" width="1.6" height="2.6"/><rect x="834.2" y="697.7" width="1.6" height="2.6"/><rect x="856.2" y="697.7" width="1.6" height="2.6"/><rect x="878.2" y="697.7" width="1.6" height="2.6"/><rect x="900.2" y="697.7" width="1.6" height="2.6"/><rect x="922.2" y="697.7" width="1.6" height="2.6"/><rect x="944.2" y="697.7" width="1.6" height="2.6"/><rect x="966.2" y="697.7" width="1.6" height="2.6"/><rect x="988.2" y="697.7" width="1.6" height="2.6"/><rect x="1010.2" y="697.7" width="1.6" height="2.6"/><rect x="1032.2" y="697.7" width="1.6" height="2.6"/><rect x="1054.2" y="697.7" width="1.6" height="2.6"/><rect x="1076.2" y="697.7" width="1.6" height="2.6"/><rect x="1098.2" y="697.7" width="1.6" height="2.6"/><rect x="1120.2" y="697.7" width="1.6" height="2.6"/><rect x="1142.2" y="697.7" width="1.6" height="2.6"/><rect x="1164.2" y="697.7" width="1.6" height="2.6"/><rect x="1186.2" y="697.7" width="1.6" height="2.6"/><rect x="1208.2" y="697.7" width="1.6" height="2.6"/><rect x="1230.2" y="697.7" width="1.6" height="2.6"/><rect x="1252.2" y="697.7" width="1.6" height="2.6"/><rect x="1274.2" y="697.7" width="1.6" height="2.6"/><rect x="1296.2" y="697.7" width="1.6" height="2.6"/><rect x="1318.2" y="697.7" width="1.6" height="2.6"/><rect x="1340.2" y="697.7" width="1.6" height="2.6"/><rect x="1362.2" y="697.7" width="1.6" height="2.6"/><rect x="1384.2" y="697.7" width="1.6" height="2.6"/></g>
<!-- layer D: text -->
<g filter="url(#ft)">
<g clip-path="url(#plot)"><text x="332" y="681" font-size="22" fill="#111d2e" text-anchor="middle" textLength="53.5" lengthAdjust="spacingAndGlyphs" font-weight="700" stroke="#111d2e" stroke-width="0.2" stroke-linejoin="round">12:00</text><text x="684" y="681" font-size="22" fill="#111d2e" text-anchor="middle" textLength="53.5" lengthAdjust="spacingAndGlyphs" font-weight="700" stroke="#111d2e" stroke-width="0.2" stroke-linejoin="round">18:00</text><text x="1036" y="681" font-size="22" fill="#111d2e" text-anchor="middle" textLength="53.5" lengthAdjust="spacingAndGlyphs" font-weight="700" stroke="#111d2e" stroke-width="0.2" stroke-linejoin="round">00:00</text><text x="1388" y="681" font-size="22" fill="#111d2e" text-anchor="middle" textLength="53.5" lengthAdjust="spacingAndGlyphs" font-weight="700" stroke="#111d2e" stroke-width="0.2" stroke-linejoin="round">06:00</text><text x="1357" y="241.6" font-size="20.6" fill="#0e1a2b" text-anchor="end" textLength="42" lengthAdjust="spacingAndGlyphs" font-weight="700" stroke="#0e1a2b" stroke-width="0.35" stroke-linejoin="round">2.90</text><text x="1357" y="332.6" font-size="20.6" fill="#0e1a2b" text-anchor="end" textLength="42" lengthAdjust="spacingAndGlyphs" font-weight="700" stroke="#0e1a2b" stroke-width="0.35" stroke-linejoin="round">2.88</text><text x="1357" y="423.8" font-size="20.6" fill="#0e1a2b" text-anchor="end" textLength="42" lengthAdjust="spacingAndGlyphs" font-weight="700" stroke="#0e1a2b" stroke-width="0.35" stroke-linejoin="round">2.86</text><text x="1357" y="514.6" font-size="20.6" fill="#0e1a2b" text-anchor="end" textLength="42" lengthAdjust="spacingAndGlyphs" font-weight="700" stroke="#0e1a2b" stroke-width="0.35" stroke-linejoin="round">2.84</text><text x="1357" y="605.5" font-size="20.6" fill="#0e1a2b" text-anchor="end" textLength="42" lengthAdjust="spacingAndGlyphs" font-weight="700" stroke="#0e1a2b" stroke-width="0.35" stroke-linejoin="round">2.82</text></g>
<text x="38.6" y="67" font-size="37" fill="#0e1a2b" textLength="169" lengthAdjust="spacingAndGlyphs" font-weight="700" stroke="#0e1a2b" stroke-width="0.7" stroke-linejoin="round">XRP-USD</text><text x="38" y="93" font-size="21" fill="#2c3542" textLength="132" lengthAdjust="spacingAndGlyphs" stroke="#2c3542" stroke-width="0.25" stroke-linejoin="round">24 Hour Chart</text><text x="36.5" y="174.6" font-size="78.5" fill="#0e1a2b" textLength="251" lengthAdjust="spacingAndGlyphs" font-weight="700" stroke="#0e1a2b" stroke-width="0.6" stroke-linejoin="round">2.8494</text><text x="309.5" y="174.6" font-size="22" fill="#0e1a2b" textLength="70" lengthAdjust="spacingAndGlyphs" font-weight="700" stroke="#0e1a2b" stroke-width="0.4" stroke-linejoin="round">-2.01%</text><text x="1115" y="29" font-size="20" fill="#1a1a1a" textLength="108" lengthAdjust="spacingAndGlyphs" font-weight="700" stroke="#1a1a1a" stroke-width="0.35" stroke-linejoin="round">Powered by</text><text x="1151" y="72" font-size="30" fill="#0a0a0a" textLength="137.7" lengthAdjust="spacingAndGlyphs" font-weight="700" stroke="#0a0a0a" stroke-width="0.9" stroke-linejoin="round">CoinDesk</text><text x="1292.3" y="72" font-size="30" fill="#0a0a0a" textLength="65.8" lengthAdjust="spacingAndGlyphs" font-weight="700" stroke="#0a0a0a" stroke-width="0.9" stroke-linejoin="round">Data</text><text x="1129.5" y="109" font-size="21.5" fill="#a9a9a9" textLength="229" lengthAdjust="spacingAndGlyphs" stroke="#a9a9a9" stroke-width="0.2" stroke-linejoin="round">1 Oct 2025 06:14 (GMT)</text>
<path d="M390,159 L414.6,159 L402.3,178.4 Z" fill="#a01b0a"/>
<g fill="#050505"><path d="M1143.1,49.1 L1119,49.1 L1119,73.5 L1131.2,73.5" fill="none" stroke="#050505" stroke-width="3.6" stroke-linejoin="round"/><circle cx="1119" cy="49.1" r="4.6"/><circle cx="1131.2" cy="49.1" r="4.6"/><circle cx="1143.1" cy="49.1" r="4.6"/><circle cx="1119" cy="61.3" r="4.6"/><circle cx="1119" cy="73.5" r="4.6"/><circle cx="1131.2" cy="73.5" r="4.6"/><circle cx="1131.4" cy="61.5" r="2.1"/><circle cx="1143.3" cy="61.5" r="2.1"/><circle cx="1143.3" cy="73.7" r="2.1"/></g>
<text x="797.5" y="142.7" font-size="24" fill="#0e1a2b" text-anchor="middle" textLength="76" lengthAdjust="spacingAndGlyphs" font-weight="700" stroke="#0e1a2b" stroke-width="0.4" stroke-linejoin="round">2.9078</text><text x="927.5" y="142.7" font-size="24" fill="#0e1a2b" text-anchor="middle" textLength="76" lengthAdjust="spacingAndGlyphs" font-weight="700" stroke="#0e1a2b" stroke-width="0.4" stroke-linejoin="round">2.9078</text><text x="1057.5" y="142.7" font-size="24" fill="#0e1a2b" text-anchor="middle" textLength="76" lengthAdjust="spacingAndGlyphs" font-weight="700" stroke="#0e1a2b" stroke-width="0.4" stroke-linejoin="round">2.8199</text><text x="1187.5" y="142.7" font-size="24" fill="#0e1a2b" text-anchor="middle" textLength="106" lengthAdjust="spacingAndGlyphs" font-weight="700" stroke="#0e1a2b" stroke-width="0.4" stroke-linejoin="round">141.52 M</text><text x="1318" y="142.7" font-size="24" fill="#0e1a2b" text-anchor="middle" textLength="105.5" lengthAdjust="spacingAndGlyphs" font-weight="700" stroke="#0e1a2b" stroke-width="0.4" stroke-linejoin="round">402.99 M</text><text x="798" y="172.5" font-size="21.8" fill="#2c3542" text-anchor="middle" textLength="51.5" lengthAdjust="spacingAndGlyphs" stroke="#2c3542" stroke-width="0.25" stroke-linejoin="round">Open</text><text x="929" y="172.5" font-size="21.8" fill="#2c3542" text-anchor="middle" textLength="43" lengthAdjust="spacingAndGlyphs" stroke="#2c3542" stroke-width="0.25" stroke-linejoin="round">High</text><text x="1059" y="172.5" font-size="21.8" fill="#2c3542" text-anchor="middle" textLength="38" lengthAdjust="spacingAndGlyphs" stroke="#2c3542" stroke-width="0.25" stroke-linejoin="round">Low</text><text x="1188" y="172.5" font-size="21.8" fill="#2c3542" text-anchor="middle" textLength="29.5" lengthAdjust="spacingAndGlyphs" stroke="#2c3542" stroke-width="0.25" stroke-linejoin="round">Vol</text><text x="1319" y="172.5" font-size="21.8" fill="#2c3542" text-anchor="middle" textLength="74.5" lengthAdjust="spacingAndGlyphs" stroke="#2c3542" stroke-width="0.25" stroke-linejoin="round">Vol USD</text>
</g>
</svg>
</body></html>
